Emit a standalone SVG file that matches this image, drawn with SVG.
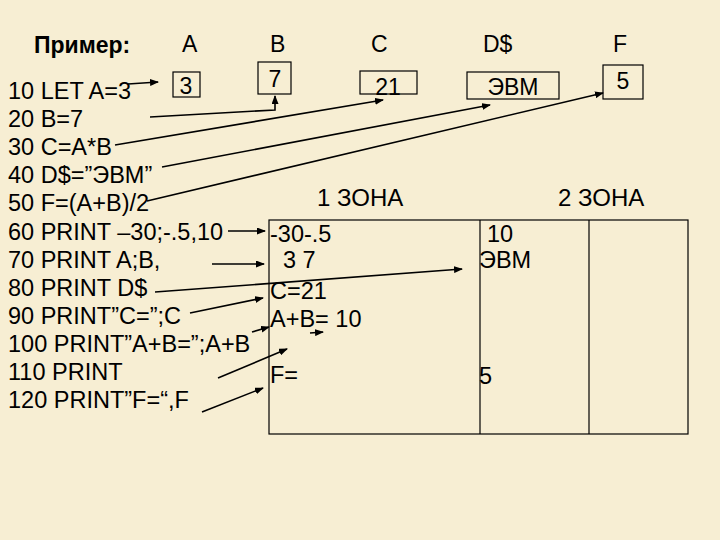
<svg xmlns="http://www.w3.org/2000/svg" width="720" height="540" viewBox="0 0 720 540">
<style>
.t{font-family:"Liberation Sans",Arial,sans-serif;font-size:23.5px;fill:#000}
.h{font-family:"Liberation Sans",Arial,sans-serif;font-size:23px;fill:#000}
.b{font-family:"Liberation Sans",Arial,sans-serif;font-size:23px;fill:#000;text-anchor:middle}
.z{font-family:"Liberation Sans",Arial,sans-serif;font-size:24px;fill:#000}
.box{fill:none;stroke:#000;stroke-width:1.2}
.c{fill:none;stroke:#000;stroke-width:1.6;marker-end:url(#ah)}
</style>
<defs>
<marker id="ah" markerUnits="userSpaceOnUse" markerWidth="9" markerHeight="7" refX="8" refY="3.5" orient="auto">
<path d="M0,0 L9,3.5 L0,7 Z" fill="#000"/>
</marker>
</defs>
<rect width="720" height="540" fill="#f7eed3"/>
<g id="header">
<text x="34" y="53" class="h" style="font-weight:bold">Пример:</text>
<text x="182" y="52" class="h">A</text>
<text x="270" y="52" class="h">B</text>
<text x="371" y="52" class="h">C</text>
<text x="483" y="52" class="h">D$</text>
<text x="613" y="52" class="h">F</text>
</g>
<g id="program">
<text x="8" y="99" class="t">10 LET A=3</text>
<text x="8" y="127" class="t">20 B=7</text>
<text x="8" y="155" class="t">30 C=A*B</text>
<text x="8" y="183" class="t">40 D$=”ЭВМ”</text>
<text x="8" y="211" class="t">50 F=(A+B)/2</text>
<text x="8" y="240" class="t">60 PRINT –30;-.5,10</text>
<text x="8" y="268" class="t">70 PRINT A;B,</text>
<text x="8" y="296" class="t">80 PRINT D$</text>
<text x="8" y="324" class="t">90 PRINT”C=”;C</text>
<text x="8" y="352" class="t">100 PRINT”A+B=”;A+B</text>
<text x="8" y="380" class="t">110 PRINT</text>
<text x="8" y="408" class="t">120 PRINT”F=“,F</text>
</g>
<g id="var-A"><rect x="173" y="72" width="27" height="25" class="box"/><text x="186" y="94" class="b">3</text></g>
<g id="var-B"><rect x="258" y="62" width="33" height="32" class="box"/><text x="275" y="87" class="b">7</text></g>
<g id="var-C"><rect x="360" y="71" width="57" height="23" class="box"/><text x="388" y="95" class="b">21</text></g>
<g id="var-D"><rect x="467" y="72" width="92" height="27" class="box"/><text x="513" y="95" class="b">ЭВМ</text></g>
<g id="var-F"><rect x="603" y="65" width="40" height="34" class="box"/><text x="623" y="89" class="b">5</text></g>
<g id="zones">
<text x="317" y="206" class="z">1 ЗОНА</text>
<text x="558" y="206" class="z">2 ЗОНА</text>
</g>
<g id="screen">
<rect x="269" y="220" width="419" height="214" class="box"/>
<line x1="480" y1="220" x2="480" y2="434" class="box"/>
<line x1="589" y1="220" x2="589" y2="434" class="box"/>
<text x="270" y="242" class="t">-30-.5</text>
<text x="283" y="268" class="t">3 7</text>
<text x="270" y="299" class="t">C=21</text>
<text x="270" y="327" class="t">A+B= 10</text>
<text x="270" y="383" class="t">F=</text>
<text x="487" y="242" class="t">10</text>
<text x="479" y="268" class="t">ЭВМ</text>
<text x="479" y="384" class="t">5</text>
</g>
<g id="connectors">
<path class="c" d="M128,84 L158,82"/>
<path class="c" d="M150,117 L275,110 L275,96"/>
<path class="c" d="M115,145 L383,100"/>
<path class="c" d="M162,167 L490,105"/>
<path class="c" d="M147,201 L603,93"/>
<path class="c" d="M228,231 L265,231"/>
<path class="c" d="M212,264 L264,264"/>
<path class="c" d="M155,292 L462,269"/>
<path class="c" d="M190,313 L263,298"/>
<path class="c" d="M252,332 L269,327"/>
<path class="c" d="M310,333 L323,332"/>
<path class="c" d="M218,378 L287,349"/>
<path class="c" d="M202,412 L263,388"/>
</g>
</svg>
